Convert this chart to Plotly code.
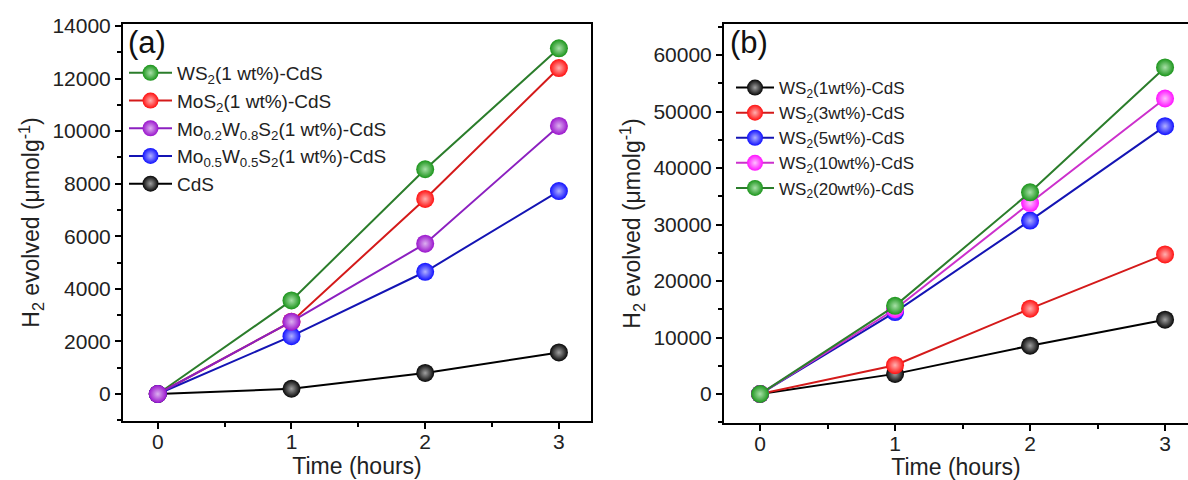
import plotly.graph_objects as go

# ---------------- data ----------------
time_h = [0, 1, 2, 3]

# panel (a)
a_names = ["WS<sub>2</sub>(1 wt%)-CdS", "MoS<sub>2</sub>(1 wt%)-CdS",
           "Mo<sub>0.2</sub>W<sub>0.8</sub>S<sub>2</sub>(1 wt%)-CdS",
           "Mo<sub>0.5</sub>W<sub>0.5</sub>S<sub>2</sub>(1 wt%)-CdS", "CdS"]
a_ws2 = [0, 3560, 8550, 13150]
a_mos2 = [0, 2750, 7420, 12400]
a_mo02 = [0, 2750, 5720, 10200]
a_mo05 = [0, 2200, 4650, 7720]
a_cds = [0, 200, 800, 1580]

# panel (b)
b_names = ["WS<sub>2</sub>(1wt%)-CdS", "WS<sub>2</sub>(3wt%)-CdS", "WS<sub>2</sub>(5wt%)-CdS",
           "WS<sub>2</sub>(10wt%)-CdS", "WS<sub>2</sub>(20wt%)-CdS"]
b_1 = [0, 3560, 8550, 13150]
b_3 = [0, 5100, 15100, 24700]
b_5 = [0, 14500, 30700, 47400]
b_10 = [0, 15000, 33800, 52300]
b_20 = [0, 15600, 35700, 57800]

x_ticks = [0, 1, 2, 3]
a_yticks = [0, 2000, 4000, 6000, 8000, 10000, 12000, 14000]
b_yticks = [0, 10000, 20000, 30000, 40000, 50000, 60000]

# ---------------- styles ----------------
GREEN = ("#1a941a", "#2b7d2b", "#a8e0a8")
RED = ("#ff1010", "#d41a1a", "#ffb0b0")
PURPLE = ("#9a14cc", "#8c20c0", "#dcb0f0")
BLUE = ("#1010ff", "#1414b4", "#b0b0ff")
BLACK = ("#050505", "#000000", "#a0a0a0")
MAGENTA = ("#ff10ff", "#cc30cc", "#ffc0ff")

FONT = "Liberation Sans, Arial, sans-serif"

fig = go.Figure()


def add(xs, ys, name, col, xa, ya, legend, rank):
    fig.add_trace(go.Scatter(
        x=xs, y=ys, name=name, mode="lines+markers",
        xaxis=xa, yaxis=ya, legend=legend, legendrank=rank,
        line=dict(color=col[1], width=2),
        marker=dict(size=18, color=col[0], line=dict(width=0),
                    gradient=dict(type="radial", color=col[2])),
    ))


# panel (a) drawing order (bottom to top)
add(time_h, a_cds, a_names[4], BLACK, "x", "y", "legend", 5)
add(time_h, a_ws2, a_names[0], GREEN, "x", "y", "legend", 1)
add(time_h, a_mos2, a_names[1], RED, "x", "y", "legend", 2)
add(time_h, a_mo05, a_names[3], BLUE, "x", "y", "legend", 4)
add(time_h, a_mo02, a_names[2], PURPLE, "x", "y", "legend", 3)

# panel (b)
add(time_h, b_1, b_names[0], BLACK, "x2", "y2", "legend2", 1)
add(time_h, b_3, b_names[1], RED, "x2", "y2", "legend2", 2)
add(time_h, b_5, b_names[2], BLUE, "x2", "y2", "legend2", 3)
add(time_h, b_10, b_names[3], MAGENTA, "x2", "y2", "legend2", 4)
add(time_h, b_20, b_names[4], GREEN, "x2", "y2", "legend2", 5)

W, H = 1188, 480

axis_common = dict(showgrid=False, zeroline=False, showline=True, linecolor="black",
                   linewidth=2, mirror=True, ticks="outside", ticklen=6, tickwidth=2,
                   tickcolor="black", tickfont=dict(family=FONT, size=21, color="#222"),
                   automargin=False)

xcommon = dict(axis_common, tickvals=x_ticks, ticktext=[str(v) for v in x_ticks],
               ticklabelstandoff=-5,
               minor=dict(dtick=0.5, tick0=0, ticks="outside", ticklen=4, tickwidth=2,
                          tickcolor="black"),
               title=dict(text="Time (hours)", font=dict(family=FONT, size=23, color="#222"),
                          standoff=0))

ytitle = "H<sub>2</sub> evolved (\u03bcmolg<sup>-1</sup>)"

fig.update_layout(
    width=W, height=H,
    margin=dict(l=0, r=0, t=0, b=0, autoexpand=False),
    paper_bgcolor="white", plot_bgcolor="white",
    showlegend=True,
    xaxis=dict(xcommon, domain=[123 / W, 591 / W], range=[-0.26, 3.24], anchor="y"),
    yaxis=dict(axis_common, domain=[1 - 421 / H, 1 - 24 / H], range=[-1027, 14076],
               tickvals=a_yticks, ticktext=[str(v) for v in a_yticks], anchor="x",
               minor=dict(dtick=1000, tick0=0, ticks="outside", ticklen=4, tickwidth=2,
                          tickcolor="black"),
               title=dict(text=ytitle, font=dict(family=FONT, size=23, color="#222"),
                          standoff=6)),
    xaxis2=dict(xcommon, domain=[724 / W, 1.0], range=[-0.267, 3.17], anchor="y2"),
    yaxis2=dict(axis_common, domain=[1 - 423 / H, 1 - 24 / H], range=[-5133, 65487],
                tickvals=b_yticks, ticktext=[str(v) for v in b_yticks], anchor="x2",
                mirror=False,
                minor=dict(dtick=5000, tick0=0, ticks="outside", ticklen=4, tickwidth=2,
                           tickcolor="black"),
                title=dict(text=ytitle, font=dict(family=FONT, size=23, color="#222"),
                           standoff=6)),
    legend=dict(x=124 / W, y=1 - 54 / H, xanchor="left", yanchor="top",
                bgcolor="rgba(0,0,0,0)", font=dict(family=FONT, size=19, color="#222"),
                tracegroupgap=0, itemwidth=43),
    legend2=dict(x=731 / W, y=1 - 70 / H, xanchor="left", yanchor="top",
                 bgcolor="rgba(0,0,0,0)", font=dict(family=FONT, size=17, color="#222"),
                 tracegroupgap=0, itemwidth=38),
    annotations=[
        dict(text="(a)", x=126 / W, y=1 - 23 / H, xref="paper", yref="paper",
             xanchor="left", yanchor="top", showarrow=False,
             font=dict(family=FONT, size=31, color="#111")),
        dict(text="(b)", x=728 / W, y=1 - 23 / H, xref="paper", yref="paper",
             xanchor="left", yanchor="top", showarrow=False,
             font=dict(family=FONT, size=31, color="#111")),
    ],
)

fig.write_html("out.html", config={"displayModeBar": False},
               post_script="document.body.style.margin='0px';")
